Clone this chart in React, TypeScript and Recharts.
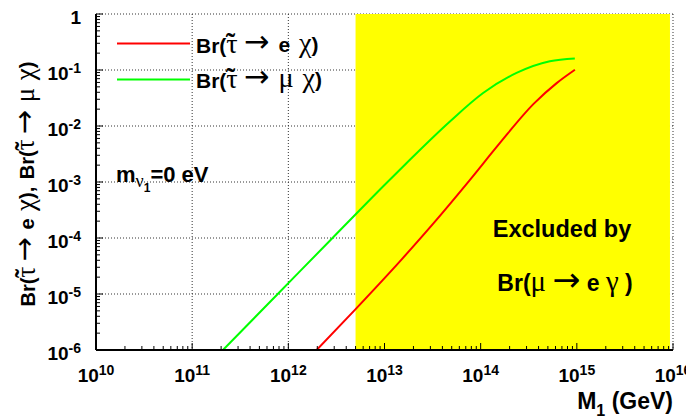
import React from 'react';
import { ComposedChart, Line, XAxis, YAxis, CartesianGrid, ReferenceArea } from 'recharts';

// M_1 in GeV, branching ratios
const muM = [2.09e11, 7.76e11, 2.88e12, 1.0e13, 1.70e13, 4.79e13, 1.06e14, 2.36e14, 5.24e14, 9.53e14];
const muBr = [1e-6, 1e-5, 1e-4, 8.85e-4, 2.19e-3, 1.205e-2, 3.88e-2, 8.85e-2, 0.143, 0.160];

const eM = [1.97e12, 5.01e12, 1.51e13, 3.16e13, 7.59e13, 1.58e14, 3.55e14, 6.17e14, 9.55e14];
const eBr = [1e-6, 5.38e-6, 4.16e-5, 1.75e-4, 1.05e-3, 4.94e-3, 2.48e-2, 5.83e-2, 0.101];

// region excluded by Br(mu -> e gamma)
const excludedFrom = 5e12;
const excludedTo = 9.3e15;

const xDecades = [1e10, 1e11, 1e12, 1e13, 1e14, 1e15, 1e16];
const yDecades = [1e-6, 1e-5, 1e-4, 1e-3, 1e-2, 1e-1, 1];

const minors = (decades: number[]) => {
    const out: number[] = [];
    decades.slice(0, -1).forEach((d) => {
        for (let k = 2; k <= 9; k++) out.push(d * k);
    });
    return out;
};
const xTicks = [...xDecades, ...minors(xDecades)].sort((a, b) => a - b);
const yTicks = [...yDecades, ...minors(yDecades)].sort((a, b) => a - b);

const muData = muM.map((m, i) => ({ m, br: muBr[i] }));
const eData = eM.map((m, i) => ({ m, br: eBr[i] }));

const sans = "'Liberation Sans', Arial, Helvetica, sans-serif";
const serif = "'Liberation Serif', 'DejaVu Serif', serif";
const arrowFont = "'DejaVu Sans', sans-serif";

const isDecade = (v: number) => Math.abs(Math.log10(v) - Math.round(Math.log10(v))) < 1e-6;

// ROOT-like mixed text: bold Helvetica with Symbol-font greek letters
type Part = string | { g: string } | { arrow: true } | { tau: true };

const Rich = ({ parts, size, gm = 1.25 }: { parts: Part[]; size: number; gm?: number }) => {
    const g = size * gm;
    const out: React.ReactNode[] = [];
    parts.forEach((p, i) => {
        if (typeof p === 'string') {
            out.push(<tspan key={i} fontFamily={sans} fontWeight="bold" fontSize={size}>{p}</tspan>);
        } else if ('g' in p) {
            out.push(<tspan key={i} fontFamily={serif} fontWeight="normal" fontSize={g}>{p.g}</tspan>);
        } else if ('arrow' in p) {
            out.push(<tspan key={i} fontFamily={arrowFont} fontWeight="normal" fontSize={size * 1.45}>{'\u2192'}</tspan>);
        } else {
            out.push(<tspan key={i} fontFamily={serif} fontWeight="normal" fontSize={g}>{'\u03C4'}</tspan>);
            out.push(
                <tspan key={i + 't'} fontFamily={serif} fontWeight="bold" fontSize={g} dx={-0.42 * g} dy={-0.02 * g}>
                    {'\u02DC'}
                </tspan>
            );
            out.push(<tspan key={i + 'r'} fontSize={g} dx={0.08 * g} dy={0.02 * g}>{''}</tspan>);
        }
    });
    return <>{out}</>;
};

const XTick = (props: any) => {
    const { x, y, payload } = props;
    const v = payload.value;
    const major = isDecade(v);
    return (
        <g>
            <line x1={x} x2={x} y1={y} y2={y - (major ? 7 : 4)} stroke="#000" strokeWidth={1} />
            {major && (
                <text x={x} y={y + 32} textAnchor="middle" fontFamily={sans} fontWeight="bold" fontSize={19} fill="#000">
                    10<tspan fontSize={14} dy={-7}>{Math.round(Math.log10(v))}</tspan>
                </text>
            )}
        </g>
    );
};

const YTick = (props: any) => {
    const { x, y, payload } = props;
    const v = payload.value;
    const major = isDecade(v);
    const exp = Math.round(Math.log10(v));
    return (
        <g>
            <line x1={x} x2={x + (major ? 7 : 4)} y1={y} y2={y} stroke="#000" strokeWidth={1} />
            {major && (
                <text x={x - 15} y={y + 10} textAnchor="end" fontFamily={sans} fontWeight="bold" fontSize={19} fill="#000">
                    {exp === 0 ? '1' : <>10<tspan fontSize={14} dy={-7}>{exp}</tspan></>}
                </text>
            )}
        </g>
    );
};

const TopTick = (props: any) => {
    const { x, y, payload } = props;
    if (!isDecade(payload.value)) return <g />;
    return <line x1={x} x2={x} y1={y} y2={y + 7} stroke="#000" strokeWidth={1} />;
};

const RightTick = (props: any) => {
    const { x, y, payload } = props;
    if (!isDecade(payload.value)) return <g />;
    return <line x1={x} x2={x - 7} y1={y} y2={y} stroke="#000" strokeWidth={1} />;
};

const legendE: Part[] = ['Br(', { tau: true }, ' ', { arrow: true }, ' e ', { g: '\u03C7' }, ')'];
const legendMu: Part[] = ['Br(', { tau: true }, ' ', { arrow: true }, ' ', { g: '\u03BC' }, ' ', { g: '\u03C7' }, ')'];
const muEGamma: Part[] = ['Br(', { g: '\u03BC' }, ' ', { arrow: true }, ' e ', { g: '\u03B3' }, ' )'];
const yTitle: Part[] = [...legendE, ', ', ...legendMu];

export default function App() {
    return (
        <div style={{ position: 'absolute', left: 0, top: 0, width: 686, height: 416, background: '#fff' }}>
            <ComposedChart width={686} height={416} margin={{ top: 14, right: 13, left: 0, bottom: 0 }}>
                <CartesianGrid
                    stroke="#333"
                    strokeDasharray="1 2"
                    horizontalValues={yDecades}
                    verticalValues={xDecades}
                />
                <XAxis
                    dataKey="m"
                    type="number"
                    scale="log"
                    domain={[1e10, 1e16]}
                    allowDataOverflow
                    ticks={xTicks}
                    interval={0}
                    height={66}
                    tickSize={0}
                    tickMargin={0}
                    tickLine={false}
                    tick={<XTick />}
                    axisLine={{ stroke: '#000', strokeWidth: 2 }}
                />
                <XAxis
                    xAxisId="t"
                    orientation="top"
                    type="number"
                    scale="log"
                    domain={[1e10, 1e16]}
                    allowDataOverflow
                    ticks={xDecades}
                    interval={0}
                    height={0}
                    tickSize={0}
                    tickMargin={0}
                    tickLine={false}
                    tick={<TopTick />}
                    axisLine={{ stroke: '#000', strokeWidth: 1.5 }}
                />
                <YAxis
                    type="number"
                    scale="log"
                    domain={[1e-6, 1]}
                    allowDataOverflow
                    ticks={yTicks}
                    interval={0}
                    width={96}
                    tickSize={0}
                    tickMargin={0}
                    tickLine={false}
                    tick={<YTick />}
                    axisLine={{ stroke: '#000', strokeWidth: 2 }}
                />
                <YAxis
                    yAxisId="r"
                    orientation="right"
                    type="number"
                    scale="log"
                    domain={[1e-6, 1]}
                    allowDataOverflow
                    ticks={yDecades}
                    interval={0}
                    width={0}
                    tickSize={0}
                    tickMargin={0}
                    tickLine={false}
                    tick={<RightTick />}
                    axisLine={{ stroke: '#000', strokeWidth: 1.5 }}
                />
                <ReferenceArea
                    x1={excludedFrom}
                    x2={excludedTo}
                    y1={1e-6}
                    y2={1}
                    fill="#ffff00"
                    fillOpacity={1}
                    stroke="none"
                    ifOverflow="hidden"
                />
                <Line data={muData} dataKey="br" type="monotone" stroke="#00ff00" strokeWidth={2} dot={false} isAnimationActive={false} />
                <Line data={eData} dataKey="br" type="monotone" stroke="#ff0000" strokeWidth={2} dot={false} isAnimationActive={false} />
            </ComposedChart>

            <svg width={686} height={416} style={{ position: 'absolute', left: 0, top: 0, pointerEvents: 'none' }}>
                {/* legend */}
                <line x1={117} x2={190} y1={43.5} y2={43.5} stroke="#ff0000" strokeWidth={2} />
                <line x1={117} x2={190} y1={79.5} y2={79.5} stroke="#00ff00" strokeWidth={2} />
                <text x={196} y={53} fill="#000" wordSpacing={3}><Rich parts={legendE} size={21} gm={1.35} /></text>
                <text x={196} y={88} fill="#000" wordSpacing={3}><Rich parts={legendMu} size={21} gm={1.35} /></text>

                {/* neutrino mass note */}
                <text x={116} y={182} fontFamily={sans} fontWeight="bold" fontSize={22} fill="#000">
                    m
                    <tspan fontFamily={serif} fontWeight="normal" fontSize={18} dy={5}>{'\u03BD'}</tspan>
                    <tspan fontSize={12} dy={5}>1</tspan>
                    <tspan dy={-10}>=0 eV</tspan>
                </text>

                {/* excluded region text */}
                <text x={562} y={237} textAnchor="middle" fontFamily={sans} fontWeight="bold" fontSize={23.5} fill="#000">
                    Excluded by
                </text>
                <text x={565} y={291} textAnchor="middle" fill="#000"><Rich parts={muEGamma} size={23} /></text>

                {/* axis titles */}
                <text x={673} y={409} textAnchor="end" fontFamily={sans} fontWeight="bold" fontSize={23} fill="#000">
                    M<tspan fontSize={16} dy={7}>1</tspan>
                    <tspan dy={-7}> (GeV)</tspan>
                </text>
                <text transform="translate(35,184) rotate(-90)" textAnchor="middle" fill="#000" wordSpacing={2}>
                    <Rich parts={yTitle} size={20} gm={1.35} />
                </text>
            </svg>
        </div>
    );
}
